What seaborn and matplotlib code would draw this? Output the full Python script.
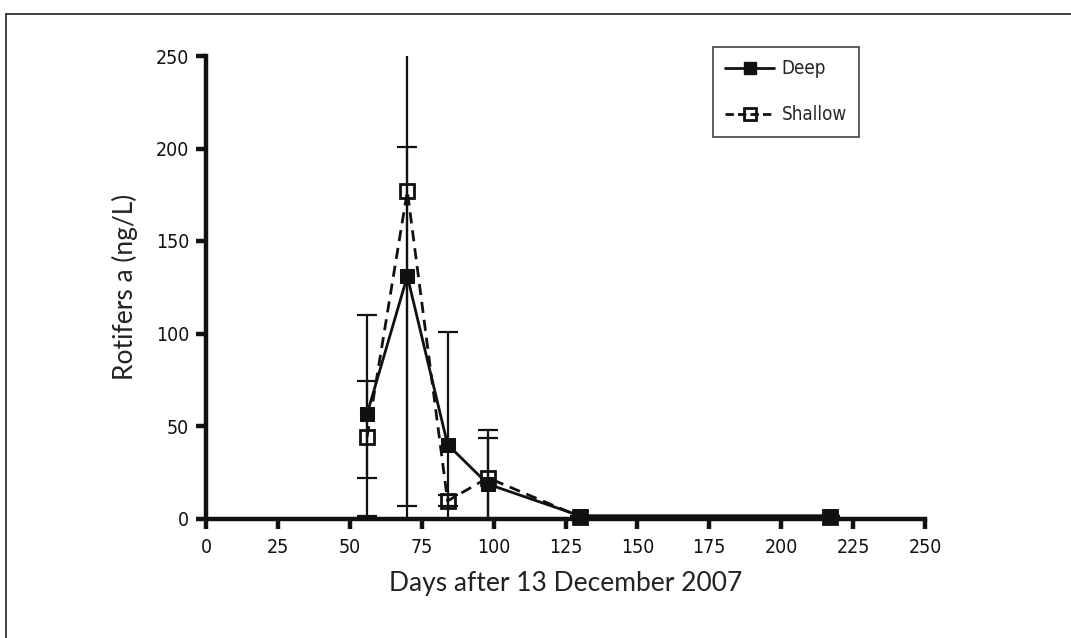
import matplotlib
matplotlib.use("Agg")
import matplotlib.pyplot as plt
import seaborn as sns
import pandas as pd
import numpy as np
from matplotlib.lines import Line2D
from matplotlib import font_manager

# ---- data ----
days = [56, 70, 84, 98, 130, 217]
deep = [56.5, 131, 40, 18.6, 1.5, 1.5]
deep_err_lo = [55, 124, 40, 18.6, 0, 0]
deep_err_hi = [53.5, 124, 61, 25, 0, 0]
shallow = [44, 177, 9.5, 22, 1.0, 1.0]
shallow_err_lo = [22, 177, 3, 22, 0, 0]
shallow_err_hi = [30.5, 24, 3, 26, 0, 0]
xticks = [0, 25, 50, 75, 100, 125, 150, 175, 200, 225, 250]
yticks = [0, 50, 100, 150, 200, 250]

sns.set_style("ticks")
plt.rcParams['font.family'] = ['DejaVu Sans']

# pick a regular-weight condensed face if one is installed
cond, cond_stretch, cond_weight = None, "normal", "normal"
for f in font_manager.fontManager.ttflist:
    if f.name == "DejaVu Sans" and str(f.stretch) in ("condensed", "semi-condensed") \
            and f.weight in (400, "normal", "regular") and f.style == "normal":
        cond, cond_stretch = "DejaVu Sans", "condensed"
        break
if cond is None:
    names = {f.name for f in font_manager.fontManager.ttflist}
    for cand in ["Liberation Sans Narrow", "Open Sans Condensed", "Roboto Condensed"]:
        if cand in names:
            cond = cand
            cond_weight = "light"
            break
if cond is None:
    cond = "DejaVu Sans"


def cfp(size):
    return font_manager.FontProperties(family=cond, stretch=cond_stretch,
                                       weight=cond_weight, size=size)


fig = plt.figure(figsize=(10.71, 6.38), dpi=100)
ax = fig.add_axes([206/1071, 119.5/638, (925-206)/1071, (518.5-56)/638])

df = pd.DataFrame({"day": days + days,
                   "val": deep + shallow,
                   "series": ["Deep"] * len(days) + ["Shallow"] * len(days)})

black = "#111111"
sns.lineplot(data=df[df.series == "Deep"], x="day", y="val", ax=ax,
             color=black, lw=2.0, marker="s", markersize=10,
             markerfacecolor=black, markeredgecolor=black, clip_on=False, zorder=4)
sns.lineplot(data=df[df.series == "Shallow"], x="day", y="val", ax=ax,
             color=black, lw=2.0, linestyle=(0, (4, 2.5)), marker="s", markersize=10,
             fillstyle="none", markeredgewidth=2.0, markeredgecolor=black,
             clip_on=False, zorder=5)

ax.errorbar(days, deep, yerr=[deep_err_lo, deep_err_hi], fmt="none",
            ecolor=black, elinewidth=1.6, capsize=7, capthick=1.6, zorder=3)
ax.errorbar(days, shallow, yerr=[shallow_err_lo, shallow_err_hi], fmt="none",
            ecolor=black, elinewidth=1.6, capsize=7, capthick=1.6, zorder=3)

ax.set_xlim(0, 250)
ax.set_ylim(0, 250)
ax.set_xticks(xticks)
ax.set_yticks(yticks)
ax.set_xticklabels([str(t) for t in xticks], fontproperties=cfp(14))
ax.set_yticklabels([str(t) for t in yticks], fontproperties=cfp(14))
for s in ["top", "right"]:
    ax.spines[s].set_visible(False)
for s in ["left", "bottom"]:
    ax.spines[s].set_linewidth(3.2)
    ax.spines[s].set_color(black)
ax.tick_params(axis="both", direction="out", length=7, width=3.2, color=black,
               labelcolor=black)
ax.tick_params(axis="x", pad=7)
ax.tick_params(axis="y", pad=5)

ax.set_xlabel("Days after 13 December 2007", fontsize=19, family="Lato",
              color="#222222", labelpad=10)
ax.set_ylabel("Rotifers a (ng/L)", fontsize=19, family="Lato",
              color="#222222", labelpad=13)

handles = [
    Line2D([], [], color=black, lw=2.0, marker="s", markersize=9,
           markerfacecolor=black),
    Line2D([], [], color=black, lw=2.0, linestyle=(0, (3, 1.5)), marker="s",
           markersize=9, fillstyle="none", markeredgewidth=2.0),
]
leg = ax.legend(handles, ["Deep", "Shallow"], loc="upper left",
                bbox_to_anchor=((713-206)/(925-206), (518.5-47)/(518.5-56)),
                prop=cfp(13.5), frameon=True, fancybox=False, handlelength=2.6,
                handletextpad=0.4, borderpad=0.65, labelspacing=1.45,
                borderaxespad=0)
leg.get_frame().set_edgecolor(black)
leg.get_frame().set_linewidth(1.2)

# outer frame lines (top and left)
fig.add_artist(Line2D([6/1071, 1.0], [1 - 14/638, 1 - 14/638],
                      transform=fig.transFigure, color="#222222", lw=1.2))
fig.add_artist(Line2D([6/1071, 6/1071], [0, 1 - 14/638],
                      transform=fig.transFigure, color="#222222", lw=1.2))

fig.savefig("out.png", dpi=100)
